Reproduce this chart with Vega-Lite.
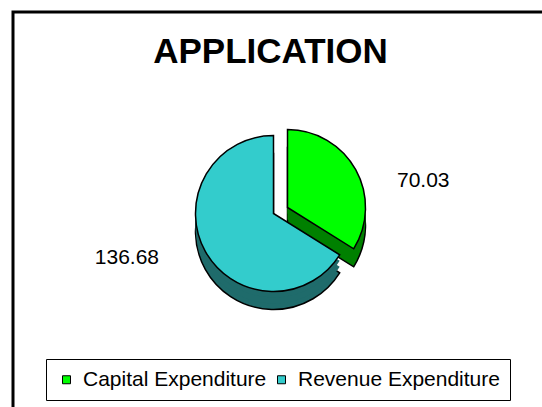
{
  "$schema": "https://vega.github.io/schema/vega-lite/v6.json",
  "width": 533,
  "height": 399,
  "autosize": {"type": "none"},
  "padding": {"left": 13, "top": 12, "right": -4, "bottom": -4},
  "background": "white",
  "view": {"stroke": "black", "strokeWidth": 3, "fill": "white"},
  "config": {
    "view": {"stroke": "black", "strokeWidth": 3},
    "font": "Liberation Sans"
  },
  "title": {
    "text": "APPLICATION",
    "fontSize": 35,
    "fontWeight": "bold",
    "font": "Liberation Sans",
    "color": "black",
    "anchor": "middle",
    "baseline": "alphabetic",
    "offset": 0,
    "dy": 86,
    "dx": -9
  },
  "data": {
    "values": [
      {"category": "Capital Expenditure", "value": 70.03},
      {"category": "Revenue Expenditure", "value": 136.68}
    ]
  },
  "transform": [
    {"stack": "value", "groupby": [], "sort": [{"field": "category", "order": "ascending"}], "as": ["start", "end"]}
  ],
  "layer": [
    {
      "transform": [{"filter": "datum.category === 'Revenue Expenditure'"}],
      "mark": {"type": "arc", "radius": 78, "color": "#1f6b6b", "stroke": "black", "strokeWidth": 1.5, "xOffset": -6, "yOffset": 20},
      "encoding": {"theta": {"field": "start", "type": "quantitative"}, "theta2": {"field": "end"}}
    },
    {
      "transform": [{"filter": "datum.category === 'Revenue Expenditure'"}],
      "mark": {"type": "arc", "radius": 78, "color": "#1f6b6b", "strokeWidth": 0, "xOffset": -6, "yOffset": 14},
      "encoding": {"theta": {"field": "start", "type": "quantitative"}, "theta2": {"field": "end"}}
    },
    {
      "transform": [{"filter": "datum.category === 'Revenue Expenditure'"}],
      "mark": {"type": "arc", "radius": 78, "color": "#1f6b6b", "strokeWidth": 0, "xOffset": -6, "yOffset": 8},
      "encoding": {"theta": {"field": "start", "type": "quantitative"}, "theta2": {"field": "end"}}
    },
    {
      "transform": [{"filter": "datum.category === 'Capital Expenditure'"}],
      "mark": {"type": "arc", "radius": 78, "color": "#008000", "stroke": "black", "strokeWidth": 1.5, "xOffset": 8, "yOffset": 14},
      "encoding": {"theta": {"field": "start", "type": "quantitative"}, "theta2": {"field": "end"}}
    },
    {
      "transform": [{"filter": "datum.category === 'Capital Expenditure'"}],
      "mark": {"type": "arc", "radius": 78, "color": "#008000", "strokeWidth": 0, "xOffset": 8, "yOffset": 8},
      "encoding": {"theta": {"field": "start", "type": "quantitative"}, "theta2": {"field": "end"}}
    },
    {
      "transform": [{"filter": "datum.category === 'Capital Expenditure'"}],
      "mark": {"type": "arc", "radius": 78, "color": "#008000", "strokeWidth": 0, "xOffset": 8, "yOffset": 2},
      "encoding": {"theta": {"field": "start", "type": "quantitative"}, "theta2": {"field": "end"}}
    },
    {
      "transform": [{"filter": "datum.category === 'Revenue Expenditure'"}],
      "mark": {"type": "arc", "radius": 78, "stroke": "black", "strokeWidth": 1.5, "opacity": 1, "xOffset": -6, "yOffset": 2},
      "encoding": {
        "theta": {"field": "start", "type": "quantitative"},
        "theta2": {"field": "end"},
        "color": {
          "field": "category",
          "type": "nominal",
          "scale": {"domain": ["Capital Expenditure", "Revenue Expenditure"], "range": ["#00ff00", "#33cccc"]},
          "legend": {
            "orient": "none",
            "legendX": 33,
            "legendY": 347,
            "direction": "horizontal",
            "title": null,
            "strokeColor": "black",
            "padding": 10,
            "symbolType": "square",
            "symbolSize": 64,
            "symbolStrokeColor": "black",
            "symbolStrokeWidth": 1,
            "symbolOpacity": 1,
            "labelFontSize": 21,
            "labelFont": "Liberation Sans",
            "labelColor": "black",
            "labelOffset": 6,
            "labelLimit": 400,
            "columnPadding": 4
          }
        }
      }
    },
    {
      "transform": [{"filter": "datum.category === 'Capital Expenditure'"}],
      "mark": {"type": "arc", "radius": 78, "stroke": "black", "strokeWidth": 1.5, "opacity": 1, "xOffset": 8, "yOffset": -4},
      "encoding": {
        "theta": {"field": "start", "type": "quantitative"},
        "theta2": {"field": "end"},
        "color": {
          "field": "category",
          "type": "nominal",
          "scale": {"domain": ["Capital Expenditure", "Revenue Expenditure"], "range": ["#00ff00", "#33cccc"]}
        }
      }
    },
    {
      "mark": {"type": "text", "radius": 100, "fontSize": 21, "font": "Liberation Sans", "align": "left", "baseline": "middle", "dx": 30, "dy": 18, "color": "black"},
      "encoding": {
        "theta": {"field": "value", "type": "quantitative", "stack": true},
        "order": {"field": "category", "sort": "ascending"},
        "text": {"condition": {"test": "datum.category === 'Capital Expenditure'", "field": "value", "type": "quantitative", "format": ".2f"}, "value": ""}
      }
    },
    {
      "mark": {"type": "text", "radius": 100, "fontSize": 21, "font": "Liberation Sans", "align": "right", "baseline": "middle", "dx": -33, "dy": -2, "color": "black"},
      "encoding": {
        "theta": {"field": "value", "type": "quantitative", "stack": true},
        "order": {"field": "category", "sort": "ascending"},
        "text": {"condition": {"test": "datum.category === 'Revenue Expenditure'", "field": "value", "type": "quantitative", "format": ".2f"}, "value": ""}
      }
    }
  ]
}
